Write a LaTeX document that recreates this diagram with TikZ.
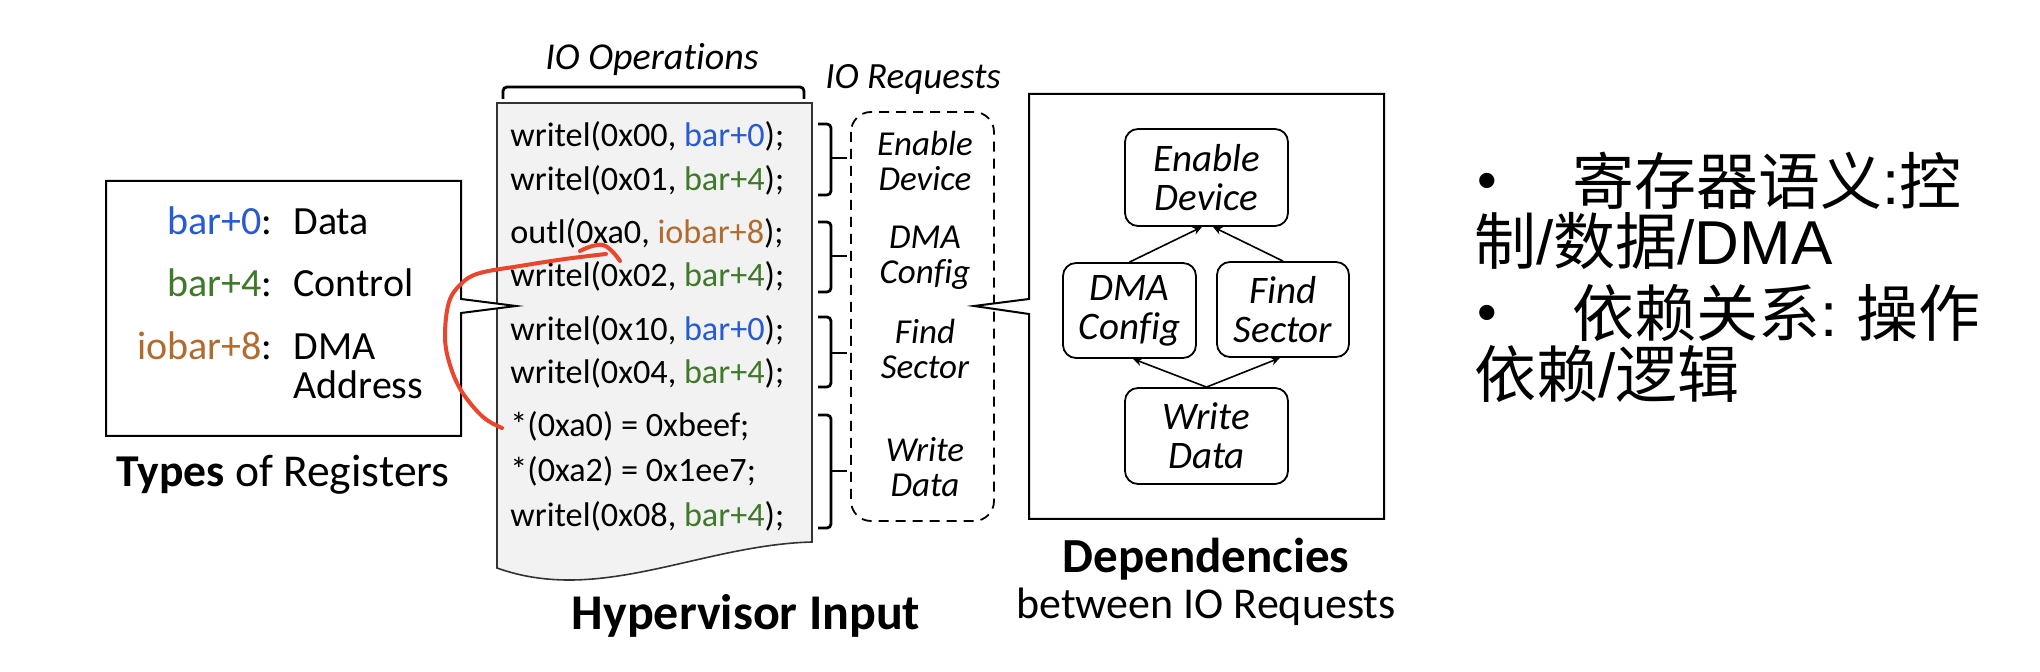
\documentclass[tikz,border=0pt]{standalone}
\usepackage{fontspec}
\setmainfont{Carlito}[Ligatures=NoCommon]
\newfontfamily\cjk{Noto Sans CJK SC}
\newfontfamily\lsans{Liberation Sans}
\usetikzlibrary{arrows.meta}
\definecolor{cblue}{RGB}{40,90,210}
\definecolor{cgreen}{RGB}{62,122,42}
\definecolor{corange}{RGB}{176,108,46}
\definecolor{cred}{RGB}{232,70,45}
\definecolor{docgray}{RGB}{242,242,242}
\newcommand{\zhbullet}{\makebox[47.5pt][l]{\raisebox{2.5pt}{\fontsize{28}{28}\lsans •}}}
\begin{document}
\begin{tikzpicture}[x=0.5pt,y=-0.5pt,
  code/.style={anchor=base west, inner sep=0, font=\fontsize{17.1}{21}\selectfont},
  reglab/.style={anchor=base east, inner sep=0, font=\fontsize{20}{24}\selectfont},
  regval/.style={anchor=base west, inner sep=0, font=\fontsize{20}{24}\selectfont},
  req/.style={inner sep=0, align=center, font=\fontsize{17.5}{17.5}\selectfont\itshape},
  dep/.style={draw, line width=0.9pt, rounded corners=6.5pt, align=center, inner sep=0, font=\fontsize{19.5}{19.5}\selectfont\itshape},
  deparrow/.style={-{Stealth[length=4.5pt,width=4pt]}, line width=0.8pt},
  brk/.style={line width=1.4pt, rounded corners=2pt},
  title/.style={anchor=base, inner sep=0},
  zh/.style={anchor=base west, inner sep=0, font=\fontsize{31}{31}\selectfont\cjk},
  ]
\useasboundingbox (0,0) rectangle (2040,672);

% document shape
\path[draw=black!80, line width=0.8pt, fill=docgray] (497,103) -- (812,103) -- (812,542)
  .. controls (700,545) and (600,605) .. (497,568) -- cycle;

% top bracket and titles
\draw[brk] (503,99) -- (503,87) -- (804,87) -- (804,99);
\node[title, font=\fontsize{19}{22}\selectfont\itshape] (ioops) at (652,70) {IO Operations};
\node[title, font=\fontsize{18.5}{22}\selectfont\itshape] (ioreq) at (913,89) {IO Requests};

% code lines
\node[code] (c1) at (510,147) {writel(0x00, \textcolor{cblue}{bar+0});};
\node[code] (c2) at (510,191) {writel(0x01, \textcolor{cgreen}{bar+4});};
\node[code] (c3) at (510,244) {outl(0xa0, \textcolor{corange}{iobar+8});};
\node[code] (c4) at (510,287) {writel(0x02, \textcolor{cgreen}{bar+4});};
\node[code] (c5) at (510,341) {writel(0x10, \textcolor{cblue}{bar+0});};
\node[code] (c6) at (510,384) {writel(0x04, \textcolor{cgreen}{bar+4});};
\node[code] (c7) at (510,437) {*(0xa0) = 0xbeef;};
\node[code] (c8) at (510,482) {*(0xa2) = 0x1ee7;};
\node[code] (c9) at (510,527) {writel(0x08, \textcolor{cgreen}{bar+4});};

% right braces
\foreach \t/\m/\b in {124/158/195, 222/256/292, 317/353/387, 415/471/528} {
  \draw[brk] (818,\t) -- (831,\t) -- (831,\b) -- (818,\b);
  \draw[brk] (831,\m) -- (847,\m);
}

% IO requests dashed box
\draw[dash pattern=on 5pt off 3.5pt, line width=0.9pt, rounded corners=10pt] (851,112) rectangle (994,521);
\node[req] (r1) at (925,161) {Enable\\Device};
\node[req] (r2) at (925,258) {DMA\\Config};
\node[req] (r3) at (925,349) {Find\\Sector};
\node[req] (r4) at (925,467) {Write\\Data};

% registers box with callout
\path[draw, line width=1pt, fill=white] (106,181) -- (461,181) -- (461,299) -- (516,306) -- (461,313) -- (461,436) -- (106,436) -- cycle;
\node[reglab] (k1) at (273,235) {\textcolor{cblue}{bar+0}:};
\node[regval] (v1) at (293,235) {Data};
\node[reglab] (k2) at (273,297) {\textcolor{cgreen}{bar+4}:};
\node[regval] (v2) at (293,297) {Control};
\node[reglab] (k3) at (273,360) {\textcolor{corange}{iobar+8}:};
\node[regval] (v3) at (293,360) {DMA};
\node[regval] (v4) at (293,399) {Address};
\node[title, font=\fontsize{22.8}{27}\selectfont] (types) at (283,487) {\textbf{Types} of Registers};

\node[title, font=\fontsize{25}{30}\selectfont\bfseries] (hyp) at (746,630) {Hypervisor Input};

% dependencies box with callout
\path[draw, line width=1pt, fill=white] (1029,94) -- (1384,94) -- (1384,519) -- (1029,519) -- (1029,314) -- (974,306) -- (1029,299) -- cycle;
\node[dep, minimum width=81.5pt, minimum height=48.5pt] (en) at (1206.5,177.5) {Enable\\Device};
\node[dep, minimum width=66.5pt, minimum height=47.5pt] (dma) at (1129.5,310.5) {DMA\\Config};
\node[dep, minimum width=66pt, minimum height=47.5pt] (fs) at (1283,309.5) {Find\\Sector};
\node[dep, minimum width=81.5pt, minimum height=48pt] (wd) at (1206.5,436) {Write\\Data};
\draw[deparrow] (dma.north) -- ([xshift=-2.25pt]en.south);
\draw[deparrow] (fs.north) -- ([xshift=3.25pt]en.south);
\draw[deparrow] (wd.north) -- ([xshift=1.75pt]dma.south);
\draw[deparrow] (wd.north) -- ([xshift=-1.5pt]fs.south);
\node[title, font=\fontsize{24.5}{30}\selectfont\bfseries] (deps) at (1206,573) {Dependencies};
\node[title, font=\fontsize{22}{26}\selectfont] (betw) at (1206,619) {between IO Requests};

% chinese notes
\node[zh] (t1) at (1477,205) {\zhbullet 寄存器语义{\lsans :}控};
\node[zh] (t2) at (1474,265) {制{\lsans /}数据{\lsans /DMA}};
\node[zh] (t3) at (1477,337) {\zhbullet 依赖关系{\lsans :} 操作};
\node[zh] (t4) at (1474,398) {依赖{\lsans /}逻辑};

% red hand-drawn annotation
\draw[cred, line width=2pt, line cap=round, line join=round] plot[smooth, tension=0.6] coordinates {(502,428) (483,417) (462,392) (450,365) (445,337) (449,302) (462,283) (480,273) (520,266) (565,259) (606,254)};
\draw[cred, line width=2pt, line cap=round] plot[smooth, tension=0.7] coordinates {(580,251) (603,245) (620,261)};
\end{tikzpicture}
\end{document}
